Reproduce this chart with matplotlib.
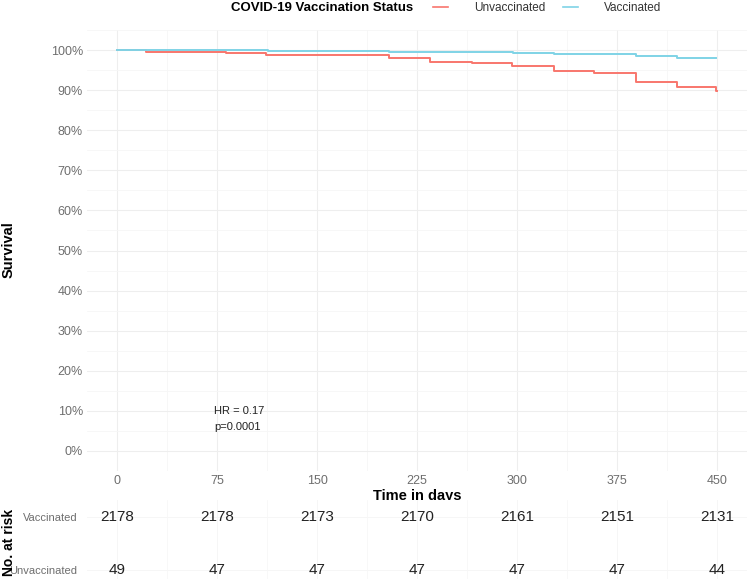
import matplotlib
matplotlib.use("Agg")
import matplotlib.pyplot as plt
from matplotlib.lines import Line2D
from matplotlib.ticker import FuncFormatter, MultipleLocator

plt.rcParams['font.family'] = ['Liberation Sans', 'DejaVu Sans']

# ---- data ----
groups = ["Unvaccinated", "Vaccinated"]
colors = {"Unvaccinated": "#F8766D", "Vaccinated": "#7FD3E6"}

time_unvacc = [0, 22, 82, 112, 204, 235, 266, 296, 328, 358, 389, 420, 449, 450]
surv_unvacc = [100, 99.6, 99.35, 98.7, 97.9, 97.0, 96.75, 96.1, 94.8, 94.2, 92.0, 90.9, 89.8, 89.8]

time_vacc = [0, 23, 113, 204, 235, 297, 328, 389, 420, 449]
surv_vacc = [100, 99.9, 99.8, 99.6, 99.4, 99.2, 99.0, 98.5, 98.1, 98.1]

risk_times = [0, 75, 150, 225, 300, 375, 450]
risk_vacc = [2178, 2178, 2173, 2170, 2161, 2151, 2131]
risk_unvacc = [49, 47, 47, 47, 47, 47, 44]

x_ticks = [0, 75, 150, 225, 300, 375, 450]
y_ticks = [0, 10, 20, 30, 40, 50, 60, 70, 80, 90, 100]

hr_text = "HR = 0.17"
p_text = "p=0.0001"

W, H = 751, 579
fig = plt.figure(figsize=(W / 100, H / 100), dpi=100)

grid_major = "#EEEEEE"
grid_minor = "#F6F6F6"
tick_col = "#6E6E6E"

xlim = (-22.5, 472.5)

# ---- main KM panel ----
ax = fig.add_axes([87 / W, 1 - 471 / H, 660 / W, 441 / H])
ax.step(time_unvacc, surv_unvacc, where="post", color=colors["Unvaccinated"], lw=1.4)
ax.step(time_vacc, surv_vacc, where="post", color=colors["Vaccinated"], lw=1.4)
ax.set_xlim(*xlim)
ax.set_ylim(-5, 105)
ax.set_xticks(x_ticks)
ax.set_yticks(y_ticks)
ax.xaxis.set_minor_locator(MultipleLocator(37.5))
ax.yaxis.set_minor_locator(MultipleLocator(5))
ax.yaxis.set_major_formatter(FuncFormatter(lambda v, p: f"{int(v)}%"))
ax.grid(which="major", color=grid_major, lw=0.8)
ax.grid(which="minor", color=grid_minor, lw=0.6)
ax.set_axisbelow(True)
for s in ax.spines.values():
    s.set_visible(False)
ax.tick_params(which="both", length=0, labelsize=9, colors=tick_col, pad=3)
ax.set_xlabel("Time in days", fontsize=10.5, fontweight="bold", labelpad=1)
ax.text(73, 10, hr_text, fontsize=8, va="center", ha="left", color="#222222")
ax.text(73, 5.9, p_text, fontsize=8, va="center", ha="left", color="#222222")
fig.text(9 / W, 1 - 250 / H, "Survival", rotation=90, fontsize=10.5,
         fontweight="bold", ha="center", va="center")

# ---- legend ----
fig.text(322 / W, 1 - 8 / H, "COVID-19 Vaccination Status", fontsize=9.5,
         fontweight="bold", ha="center", va="center")
handles = [Line2D([], [], color=colors[g], lw=1.2) for g in groups]
fig.legend(handles, groups, loc="center left", bbox_to_anchor=(422 / W, 1 - 8 / H),
           ncol=2, frameon=False, fontsize=8.5, handlelength=1.3, handletextpad=2.2,
           columnspacing=1.5, labelcolor="#333333")

# ---- risk table ----
axr = fig.add_axes([87 / W, 0, 660 / W, 79 / H])
axr.set_xlim(*xlim)
axr.set_ylim(-0.17, 1.32)
for t, v in zip(risk_times, risk_vacc):
    axr.text(t, 1, str(v), ha="center", va="center", fontsize=11, color="#222222")
for t, v in zip(risk_times, risk_unvacc):
    axr.text(t, 0, str(v), ha="center", va="center", fontsize=11, color="#222222")
axr.set_yticks([0, 1])
axr.set_yticklabels(["Unvaccinated", "Vaccinated"])
axr.set_xticks(x_ticks)
axr.set_xticklabels([])
axr.xaxis.set_minor_locator(MultipleLocator(37.5))
axr.grid(which="major", color=grid_minor, lw=0.7)
axr.grid(which="minor", color=grid_minor, lw=0.5)
axr.set_axisbelow(True)
for s in axr.spines.values():
    s.set_visible(False)
axr.tick_params(which="both", length=0, labelsize=8, colors=tick_col, pad=7)
fig.text(9 / W, 1 - 542 / H, "No. at risk", rotation=90, fontsize=10,
         fontweight="bold", ha="center", va="center")

fig.savefig("out.png", dpi=100)
